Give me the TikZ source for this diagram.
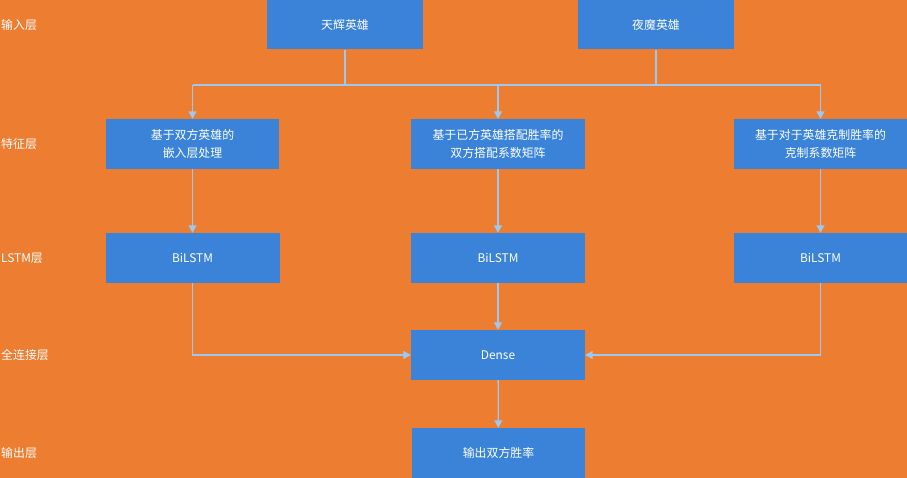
\documentclass[tikz,border=0pt]{standalone}
\usepackage{fontspec}
\setmainfont{Noto Sans CJK SC}
\usetikzlibrary{arrows.meta}
\definecolor{bg}{HTML}{ED7D31}
\definecolor{boxblue}{HTML}{3A83D9}
\definecolor{linkblue}{HTML}{9CC8F2}
\tikzset{
  box/.style={draw=none,fill=boxblue,text=white,minimum height=50pt,align=center,font=\fontsize{11.9}{17.5}\selectfont,inner sep=0pt},
  lbl/.style={text=white,anchor=west,font=\fontsize{11.9}{14}\selectfont,inner sep=0pt},
  link/.style={draw=linkblue,line width=1.3pt},
  arr/.style={link,-{Triangle[width=8pt,length=7.5pt]}}
}
\begin{document}
\begin{tikzpicture}[x=1pt,y=-1pt]
\fill[bg] (0,0) rectangle (907,478);
\useasboundingbox (0,0) rectangle (907,478);
% input
\node[box,minimum width=156pt] (tian) at (345,24.5) {天辉英雄};
\node[box,minimum width=156pt] (ye) at (656,24.5) {夜魔英雄};
% feature
\node[box,minimum width=173pt] (f1) at (192.5,144) {基于双方英雄的\\嵌入层处理};
\node[box,minimum width=174pt] (f2) at (498,144) {基于已方英雄搭配胜率的\\双方搭配系数矩阵};
\node[box,minimum width=173pt] (f3) at (820.5,144) {基于对于英雄克制胜率的\\克制系数矩阵};
% lstm
\node[box,minimum width=174pt] (l1) at (192.5,258) {BiLSTM};
\node[box,minimum width=174pt] (l2) at (498,258) {BiLSTM};
\node[box,minimum width=173pt] (l3) at (820.5,258) {BiLSTM};
% dense
\node[box,minimum width=174pt] (d) at (498,355) {Dense};
% output
\node[box,minimum width=173pt] (o) at (498.5,453) {输出双方胜率};
% layer labels
\node[lbl] (t1) at (1,25) {输入层};
\node[lbl] (t2) at (1,144) {特征层};
\node[lbl] (t3) at (1,258) {LSTM层};
\node[lbl] (t4) at (1,355) {全连接层};
\node[lbl] (t5) at (1,453) {输出层};
% connectors
\coordinate (jl) at (192.5,85);
\coordinate (jm) at (498,85);
\coordinate (jr) at (820.5,85);
\draw[link] (tian.south) -- (tian.south |- jl);
\draw[link] (ye.south) -- (ye.south |- jl);
\draw[link] (jl) -- (jr);
\draw[arr] (jl) -- (f1.north);
\draw[arr] (jm) -- (f2.north);
\draw[arr] (jr) -- (f3.north);
\draw[arr] (f1) -- (l1);
\draw[arr] (f2) -- (l2);
\draw[arr] (f3) -- (l3);
\draw[arr] (l1.south) |- (d.west);
\draw[arr] (l2) -- (d);
\draw[arr] (l3.south) |- (d.east);
\draw[arr] (d) -- (o);
\end{tikzpicture}
\end{document}
